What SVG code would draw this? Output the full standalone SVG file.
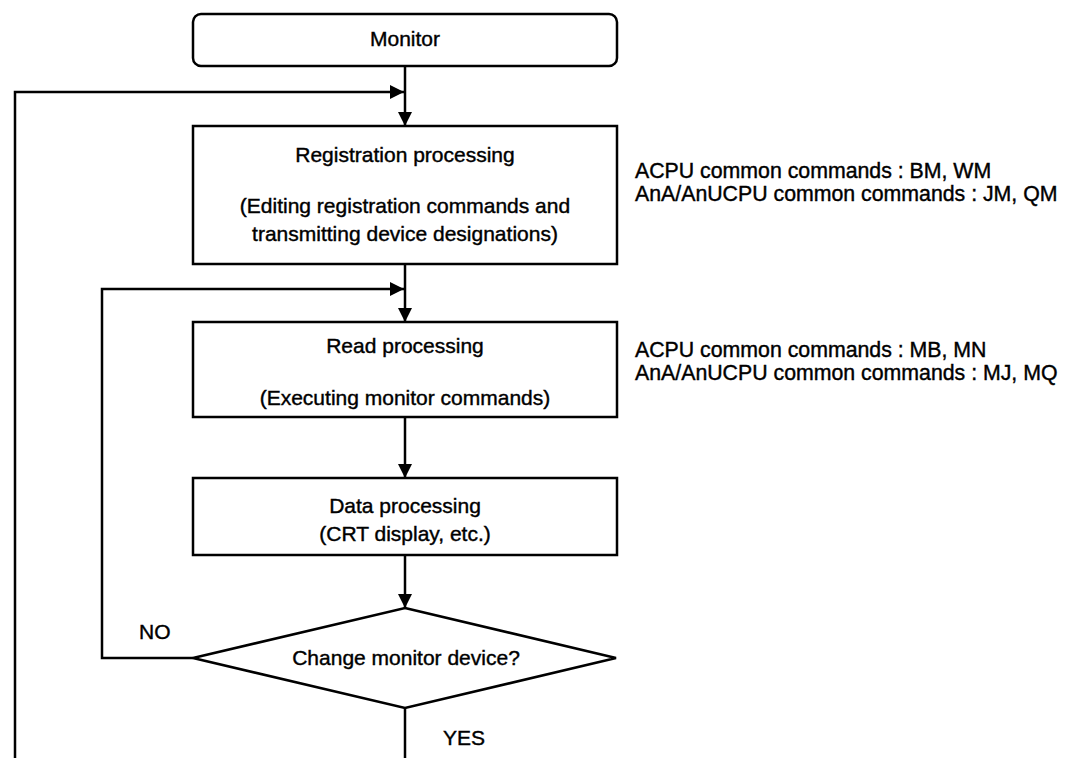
<svg xmlns="http://www.w3.org/2000/svg" width="1073" height="758" viewBox="0 0 1073 758">
  <style>
    .box { fill: #ffffff; stroke: #000000; stroke-width: 2.5; }
    .line { fill: none; stroke: #000000; stroke-width: 2.5; }
    .txt { font-family: "Liberation Sans", Arial, Helvetica, sans-serif; font-size: 21px; fill: #000000; stroke: #000000; stroke-width: 0.4; }
    .note { font-size: 21.3px; }
    .mid { text-anchor: middle; }
  </style>
  <defs>
    <marker id="arrow" viewBox="0 0 14 14" refX="14" refY="7" markerWidth="14" markerHeight="14" markerUnits="userSpaceOnUse" orient="auto">
      <path d="M0,0 L14,7 L0,14 Z" fill="#000000"/>
    </marker>
  </defs>
  <rect width="1073" height="758" fill="#ffffff"/>

  <!-- connectors -->
  <g id="connectors">
    <line class="line" x1="405" y1="66" x2="405" y2="126" marker-end="url(#arrow)"/>
    <line class="line" x1="405" y1="264" x2="405" y2="322" marker-end="url(#arrow)"/>
    <line class="line" x1="405" y1="417" x2="405" y2="478" marker-end="url(#arrow)"/>
    <line class="line" x1="405" y1="555" x2="405" y2="608" marker-end="url(#arrow)"/>
    <line class="line" x1="405" y1="708" x2="405" y2="758"/>
    <!-- YES branch: back to the top of the registration step -->
    <polyline class="line" points="15,758 15,92 404,92" marker-end="url(#arrow)"/>
    <!-- NO branch: back to the read step -->
    <polyline class="line" points="193,658 102,658 102,289 404,289" marker-end="url(#arrow)"/>
  </g>

  <g id="monitor">
    <rect class="box" x="193" y="14" width="424" height="52" rx="8" ry="8"/>
    <text class="txt mid" x="405" y="46">Monitor</text>
  </g>

  <g id="registration">
    <rect class="box" x="193" y="126" width="424" height="138"/>
    <text class="txt mid" x="405" y="162">Registration processing</text>
    <text class="txt mid" x="405" y="213">(Editing registration commands and</text>
    <text class="txt mid" x="405" y="241">transmitting device designations)</text>
  </g>

  <g id="registration-note">
    <text class="txt note" x="635" y="178">ACPU common commands : BM, WM</text>
    <text class="txt note" x="635" y="201">AnA/AnUCPU common commands : JM, QM</text>
  </g>

  <g id="read">
    <rect class="box" x="193" y="322" width="424" height="95"/>
    <text class="txt mid" x="405" y="353">Read processing</text>
    <text class="txt mid" x="405" y="405">(Executing monitor commands)</text>
  </g>

  <g id="read-note">
    <text class="txt note" x="635" y="357">ACPU common commands : MB, MN</text>
    <text class="txt note" x="635" y="380">AnA/AnUCPU common commands : MJ, MQ</text>
  </g>

  <g id="data">
    <rect class="box" x="193" y="478" width="424" height="77"/>
    <text class="txt mid" x="405" y="513">Data processing</text>
    <text class="txt mid" x="405" y="541">(CRT display, etc.)</text>
  </g>

  <g id="decision">
    <polygon class="box" points="405,608 616,658 405,708 193,658"/>
    <text class="txt mid" x="406" y="665">Change monitor device?</text>
  </g>

  <g id="labels">
    <text class="txt" x="139" y="639">NO</text>
    <text class="txt" x="443" y="745">YES</text>
  </g>
</svg>
